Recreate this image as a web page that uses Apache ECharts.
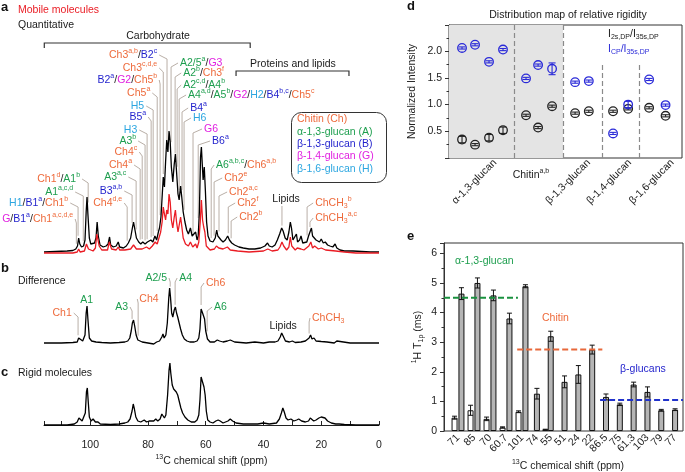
<!DOCTYPE html>
<html><head><meta charset="utf-8">
<script src="https://cdn.jsdelivr.net/npm/echarts@6/dist/echarts.min.js"></script>
<style>html,body{margin:0;padding:0;background:#fff}#c{width:685px;height:472px}</style>
</head><body><div id="c"></div><script>
// ---------------- DATA ----------------
// NMR spectra: [ppm, intensity (arbitrary units, baseline 0)]
const specQuant = [[116,0],[112,0.5],[108,1],[106,1.5],[105,3],[104.4,6],[104,14],[103.6,8],[103,5],[102.3,6],[101.8,12],[101.4,40],[101.1,55],[100.8,38],[100.3,14],[99.8,8],[99.2,6],[98.5,9],[98,14],[97.6,30],[97.2,16],[96.6,7],[95.5,5],[94.5,6],[93.8,8],[93.3,15],[92.9,7],[92,5],[91,6],[90.3,10],[89.8,5],[88.5,4],[87.5,6],[86.8,9],[86,14],[85.4,24],[85,30],[84.5,22],[84,14],[83.2,10],[82.5,8],[81.8,10],[81,8],[80.2,10],[79.6,8],[79,12],[78.3,10],[77.6,16],[77,12],[76.4,20],[76,24],[75.5,35],[75.1,55],[74.7,75],[74.3,65],[73.9,90],[73.5,112],[73.1,100],[72.7,121],[72.3,110],[71.9,85],[71.4,70],[70.9,88],[70.5,98],[70.1,80],[69.6,58],[69.2,52],[68.7,66],[68.3,55],[67.8,40],[67.2,30],[66.6,22],[66,18],[65.3,24],[64.7,16],[64.1,14],[63.5,20],[63,12],[62.6,16],[62.2,40],[61.8,95],[61.5,105],[61.2,88],[60.9,72],[60.5,85],[60.1,60],[59.7,30],[59.2,16],[58.5,11],[57.5,10],[56.7,14],[56.2,22],[55.8,16],[55.3,18],[54.7,12],[54,10],[53.2,12],[52.4,16],[51.8,12],[51,9],[50,7],[48.5,5],[47,4],[45,3],[43,3],[41,4],[39.5,6],[38.6,9],[38,6],[37,5],[36,7],[35.2,12],[34.4,18],[33.7,24],[33.2,21],[32.5,14],[31.8,12],[31.2,20],[30.7,30],[30.3,24],[29.8,12],[29.2,14],[28.6,18],[28.2,10],[27.5,12],[27,16],[26.4,9],[25.8,11],[25,10],[24.4,16],[23.9,20],[23.4,24],[23,16],[22.4,18],[21.8,12],[21.2,14],[20.6,10],[20,13],[19.3,9],[18.6,10],[17.8,7],[17,6],[16,5],[15.2,8],[14.6,4],[13.5,2],[12,1],[9,1],[6,0.5],[3,0],[0,0]];
const specMobile = [[116,-1],[110,-1],[106,-1],[104.5,0],[104,3],[103.5,0],[102,1],[101.3,8],[101,10],[100.6,3],[99,1],[98.2,4],[97.7,18],[97.3,20],[96.9,6],[96,2],[94,2],[93.4,10],[93,12],[92.6,3],[91,2],[90.3,5],[89.8,2],[88,2],[86,3],[85,7],[84,3],[82,3],[80.5,5],[79.5,3],[78.5,6],[77.5,10],[76.8,8],[76.2,14],[75.6,20],[75.1,30],[74.7,45],[74.3,38],[73.9,32],[73.5,42],[73.1,38],[72.7,58],[72.3,50],[71.9,32],[71.4,24],[70.9,35],[70.5,42],[70.1,30],[69.6,20],[69.2,22],[68.7,35],[68.3,26],[67.8,14],[67,8],[66,6],[65.3,10],[64.5,5],[63.5,8],[63,4],[62.4,10],[61.9,30],[61.5,52],[61.1,32],[60.7,25],[60.3,20],[59.8,6],[58.5,2],[57,3],[56.3,6],[55.5,4],[54,3],[52.5,5],[51.5,2],[49,1],[45,0],[40,1],[38.5,3],[37,1],[35,2],[34.3,5],[33.6,10],[33,6],[32,2],[31.2,5],[30.7,15],[30.2,6],[29,2],[28.3,4],[27,3],[26,2],[24.3,6],[23.6,10],[23,4],[22.3,6],[21,3],[20,4],[18.5,2],[15,1],[12,0],[8,-1],[0,-1]];
const specDiff = [[116,0],[110,0],[106,0.5],[104.5,1],[104,5],[103.6,3],[102.6,2],[101.8,8],[101.4,30],[101.1,37],[100.8,24],[100.3,5],[99.5,2],[98,1],[96,0.5],[93,0],[90,0.5],[88,1],[87,2],[86.3,5],[85.8,12],[85.4,20],[85,23],[84.6,17],[84.1,8],[83.5,3],[82,1],[80,0],[78,-1],[77,1],[76,2],[75.2,6],[74.8,9],[74.4,5],[73.8,8],[73.3,20],[72.8,45],[72.5,55],[72.2,46],[71.8,30],[71.4,26],[70.9,33],[70.5,36],[70.1,30],[69.7,26],[69.2,20],[68.7,14],[68.1,8],[67.4,4],[66.5,2],[65.5,1],[64,1],[63,2],[62.4,5],[62,14],[61.6,34],[61.4,36],[61.1,30],[60.8,28],[60.4,24],[60,12],[59.4,4],[58.5,1],[57,1],[56,3],[55.2,2],[54,1],[52.5,2],[51.5,3],[50,1],[46,0],[43,1],[40,0],[38,1],[36,1],[35,2],[34.2,6],[33.7,10],[33.2,7],[32.4,2],[31,1],[30,2],[29,0.5],[27,1],[25.5,2],[24.2,5],[23.7,8],[23.2,4],[22.5,5],[21.8,2],[20,1.5],[18,1],[15.5,0],[14.6,2],[14,0],[10,0],[5,0],[0,0]];
const specRigid = [[116,0],[112,0],[108,0],[105.5,1],[104.5,3],[103.9,7],[103.4,8],[102.8,4],[102.2,4],[101.7,12],[101.3,33],[101,37],[100.7,24],[100.3,8],[99.7,4],[99,6],[98.2,3],[97.3,3],[96.5,1],[93,0.5],[90,1],[88,2],[87,3],[86.2,6],[85.5,14],[85.1,21],[84.7,16],[84.2,8],[83.5,4],[82.5,3],[81.3,5],[80.5,3],[79.6,4],[79,3],[78,4],[77.3,6],[76.6,4],[75.8,6],[75.2,11],[74.8,12],[74.3,7],[73.8,10],[73.2,30],[72.7,55],[72.4,62],[72.1,52],[71.6,40],[71.1,36],[70.6,38],[70.2,33],[69.7,30],[69.2,24],[68.6,17],[68,12],[67.2,8],[66.2,5],[65,3],[63.8,3],[63,5],[62.4,10],[62,25],[61.6,48],[61.3,50],[61,42],[60.6,38],[60.2,30],[59.8,14],[59.3,5],[58.5,3],[57.5,2],[56.5,4],[55.7,5],[55,4],[54,2],[52.3,4],[51.5,6],[50.7,4],[49.5,2],[47,1],[44,1],[42,1],[40,2],[38,1],[35.5,2],[34.5,6],[33.8,12],[33.3,17],[32.8,13],[32.2,7],[31.5,5],[30.5,6],[29.5,4],[28.5,5],[27.8,6],[26.8,4],[25.5,3],[24.4,4],[23.8,7],[23.2,8],[22.6,4],[21.8,5],[20.8,7],[20,8],[19.4,9],[18.7,7],[17.8,4],[16.5,2],[15,1],[14.4,3],[13.8,1],[12,0.5],[8,0],[4,0],[0,0]];
const ppmTicks = [0, 20, 40, 60, 80, 100];

// Peak assignments, panel a: [label, side, text ppm, label height, peak ppm]
const annotA = [
 ['{o|Ch3}{os|a,b}{k|/}{b|B2}{bs|c}','L',76.8,197,73.4],
 ['{o|Ch3}{os|c,d,e}','L',76.8,184,74.7],
 ['{b|B2}{bs|a}{k|/}{m|G2}{k|/}{o|Ch5}{os|b}','L',76.8,172,75.8],
 ['{o|Ch5}{os|a}','L',79.2,159,76.8],
 ['{c|H5}','L',81.3,146,78.2],
 ['{b|B5}{bs|a}','L',80.6,135,78.9],
 ['{c|H3}','L',83.7,122,80.3],
 ['{g|A3}{gs|b}','L',84.1,111,81.0],
 ['{o|Ch4}{os|c}','L',83.7,100,82.0],
 ['{o|Ch4}{os|a}','L',85.5,87,82.7],
 ['{g|A3}{gs|a,c}','L',87.5,75,84.1],
 ['{b|B3}{bs|a,b}','L',88.9,61,85.5],
 ['{o|Ch4}{os|d,e}','L',88.9,49,87.2],
 ['{o|Ch1}{os|d}{k|/}{g|A1}{gs|b}','L',103.5,73,100.7],
 ['{g|A1}{gs|a,c,d}','L',105.9,60,102.4],
 ['{c|H1}{k|/}{b|B1}{bs|a}{k|/}{o|Ch1}{os|b}','L',107.6,49,104.2],
 ['{m|G}{k|/}{b|B1}{bs|a}{k|/}{o|Ch1}{os|a,c,d,e}','L',105.9,33,104.8],
 ['{g|A2/5}{gs|a}{k|/}{m|G3}','R',68.9,189,72.0],
 ['{g|A2}{gs|b}{k|/}{o|Ch3}{os|f}','R',67.8,179,70.6],
 ['{g|A2}{gs|c,d}{k|/}{g|A4}{gs|b}','R',67.8,167,69.9],
 ['{g|A4}{gs|a,d}{k|/}{g|A5}{gs|b}{k|/}{m|G2}{k|/}{c|H2}{k|/}{b|B4}{bs|b,c}{k|/}{o|Ch5}{os|c}','R',66.1,157,69.2],
 ['{b|B4}{bs|a}','R',65.4,144,68.2],
 ['{c|H6}','R',64.4,134,67.5],
 ['{m|G6}','R',60.6,123,64.4],
 ['{b|B6}{bs|a}','R',57.8,111,62.6],
 ['{g|A6}{gs|a,b,c}{k|/}{o|Ch6}{os|a,b}','R',56.4,87,58.1],
 ['{o|Ch2}{os|e}','R',53.6,74,57.1],
 ['{o|Ch2}{os|a,c}','R',51.9,60,55.4],
 ['{o|Ch2}{os|f}','R',49.1,49,52.2],
 ['{o|Ch2}{os|b}','R',48.4,35,51.2],
 ['{o|ChCH}{osub|3}{os|b}','R',22.1,49,24.9],
 ['{o|ChCH}{osub|3}{os|a,c}','R',22.1,34,23.9],
 ['{k|Lipids}','T',32.2,53,33.6]
];
// brackets: [from ppm, to ppm, height, label, label ppm]
const bracketsA = [[115.9,44.6,209,'Carbohydrate',76.5],[49.5,10.4,181,'Proteins and lipids',29.8]];
// panel b assignments
const annotB = [
 ['{o|Ch1}','L',106.4,30,104.2],
 ['{g|A1}','N',101.2,43,101],
 ['{g|A3}','L',86.9,36,85.5],
 ['{o|Ch4}','R',83.0,44,83.4],
 ['{g|A2/5}','L',73.4,65,72.3],
 ['{g|A4}','R',69.2,65,70.6],
 ['{o|Ch6}','R',59.9,60,61.6],
 ['{g|A6}','R',57.1,36,59.5],
 ['{k|Lipids}','N',33.2,17,33.2],
 ['{o|ChCH}{osub|3}','R',23.2,25,24.2]
];

// panel d: relative rigidity
const dGroups = ['α-1,3-glucan','β-1,3-glucan','β-1,4-glucan','β-1,6-glucan'];
const dGroupPos = [3.36, 10.2, 13.2, 16.3];
const dChitinPos = [5.98];
const dSlot = [0.95,1.9,2.92,3.94,5.62,6.5,7.52,9.2,10.2,11.97,13.07,14.6,15.8];
const dDP = [0.345,0.25,0.38,0.52,0.80,0.57,0.97,0.84,0.875,0.875,0.92,0.94,0.79];
const dDPerr = [0.06,0.02,0.06,0.06,0.02,0.02,0.02,0.02,0.02,0.02,0.02,0.02,0.02];
const dCP = [2.06,2.12,1.80,2.03,1.49,1.74,1.67,1.42,1.44,0.46,1.0,1.47,0.99];
const dCPerr = [0.02,0.02,0.02,0.02,0.02,0.02,0.11,0.02,0.02,0.02,0.06,0.02,0.02];
const dDividers = [4.74, 8.32];
const dDividersShort = [11.17, 13.87];

// panel e: 1H T1rho
const eCats1 = ['71','85','70','60.7','101'];
const eCats2 = ['74','55','51','24','22','86.5','75','61.3','103','79','77'];
const eMobile1 = [0.45,0.70,0.41,0.12,0.65];
const eMobileErr1 = [0.05,0.17,0.06,0.02,0.03];
const eRigid1 = [4.64,5.0,4.58,3.8,4.89];
const eRigidErr1 = [0.2,0.17,0.18,0.18,0.05];
const eRigid2 = [1.26,3.2,1.66,1.91,2.75,1.15,0.9,1.57,1.32,0.7,0.72];
const eRigidErr2 = [0.18,0.17,0.2,0.3,0.15,0.1,0.04,0.08,0.17,0.03,0.03];
const eMobile2 = ['-',0.05,'-','-','-','-','-','-','-','-','-'];
const eMobileErr2 = ['-',0.01,'-','-','-','-','-','-','-','-','-'];
const eMeans = [[0,4.95,4.5],[4.9,10.6,2.75],[10.45,16,1.05]]; // [from, to, mean]

// ---------------- STYLE ----------------
const FONT = 'Liberation Sans';
const ORANGE='#ee6a3b', GREEN='#1d9e4e', BLUE='#1f1fcc', MAGENTA='#e020e0', CYAN='#2ca6e0', RED='#ea1c24', LEADER='#b9afa7', INK='#1a1a1a';
const FS = 10.5;
function tok(fill, size, va, lh){ const s={fill:fill, fontSize:size, fontFamily:FONT, lineHeight:lh||14}; if(va) s.verticalAlign=va; return s; }
const richZ = {
 o:tok(ORANGE,FS), os:tok(ORANGE,7,'top',8), osub:tok(ORANGE,7,'bottom',8),
 g:tok(GREEN,FS), gs:tok(GREEN,7,'top',8),
 b:tok(BLUE,FS), bs:tok(BLUE,7,'top',8),
 m:tok(MAGENTA,FS), c:tok(CYAN,FS), k:tok(INK,FS)
};

function interp(spec,p){ for(let i=0;i<spec.length-1;i++){ const a=spec[i], b=spec[i+1]; if(p<=a[0] && p>=b[0]){ const t=(a[0]-p)/(a[0]-b[0]); return a[1]+(b[1]-a[1])*t; } } return 0; }
function topAt(spec,p){ return Math.max(interp(spec,p-0.25),interp(spec,p),interp(spec,p+0.25)); }

function annotRenderer(list, spec){
 return function(params, api){
  const r = list[params.dataIndex];
  const side=r[1], t=api.coord([r[2], r[3]]);
  const lx = api.coord([r[4], r[3]])[0];
  const by = api.coord([r[4], topAt(spec,r[4])+3])[1];
  const ch=[];
  let align='center';
  if(side==='L'){ align='right'; ch.push({type:'polyline',shape:{points:[[t[0]+2,t[1]],[lx,t[1]+4],[lx,by]]},style:{stroke:LEADER,lineWidth:1,fill:null}}); }
  else if(side==='R'){ align='left'; ch.push({type:'polyline',shape:{points:[[t[0]-2,t[1]],[lx,t[1]+4],[lx,by]]},style:{stroke:LEADER,lineWidth:1,fill:null}}); }
  else if(side==='T'){ ch.push({type:'polyline',shape:{points:[[lx,t[1]+7],[lx,by]]},style:{stroke:LEADER,lineWidth:1,fill:null}}); }
  ch.push({type:'text',x:t[0],y:t[1],style:{text:r[0],rich:richZ,align:align,verticalAlign:'middle',fontFamily:FONT,fontSize:FS}});
  return {type:'group',children:ch};
 };
}

function dMarker(color, vals, errs){
 return function(params, api){
  const i=params.dataIndex, x=dSlot[i], v=vals[i], e=errs[i];
  const c=api.coord([x,v]), hi=api.coord([x,v+e])[1], lo=api.coord([x,v-e])[1];
  const st={stroke:color,lineWidth:1.1,fill:null};
  return {type:'group',children:[
   {type:'circle',shape:{cx:c[0],cy:c[1],r:4.3},style:{stroke:color,lineWidth:1.3,fill:'rgba(255,255,255,0)'}},
   {type:'line',shape:{x1:c[0],y1:hi,x2:c[0],y2:lo},style:st},
   {type:'line',shape:{x1:c[0]-3.5,y1:hi,x2:c[0]+3.5,y2:hi},style:st},
   {type:'line',shape:{x1:c[0]-3.5,y1:lo,x2:c[0]+3.5,y2:lo},style:st}
  ]};
 };
}

function errBar(vals, errs, off){
 return function(params, api){
  const i=params.dataIndex, v=vals[i], e=errs[i];
  if(v==='-'||e==='-') return;
  const x=api.coord([i,v])[0]+off, hi=api.coord([i,v+e])[1], lo=api.coord([i,v-e])[1];
  const st={stroke:'#111',lineWidth:1};
  return {type:'group',children:[
   {type:'line',shape:{x1:x,y1:hi,x2:x,y2:lo},style:st},
   {type:'line',shape:{x1:x-2.5,y1:hi,x2:x+2.5,y2:hi},style:st},
   {type:'line',shape:{x1:x-2.5,y1:lo,x2:x+2.5,y2:lo},style:st}
  ]};
 };
}

const axisText = {color:'#222', fontSize:FS, fontFamily:FONT};
const hiddenVal = (min,max,extra)=>Object.assign({type:'value',min:min,max:max,show:false},extra||{});

const option = {
 animation:false,
 backgroundColor:'#fff',
 grid:[
  {left:44,width:335,top:0,height:256},
  {left:44,width:335,top:260,height:87},
  {left:44,width:335,top:350,height:82},
  {left:449,width:233,top:25,height:133,show:true,borderColor:'#333',borderWidth:1,backgroundColor:'rgba(0,0,0,0)'},
  {left:444,width:239,top:243,height:188,show:true,borderColor:'#333',borderWidth:1,backgroundColor:'rgba(0,0,0,0)'},
  {left:450,width:80,top:243,height:188},
  {left:530,width:152,top:243,height:188}
 ],
 xAxis:[
  hiddenVal(0,116,{gridIndex:0,inverse:true}),
  hiddenVal(0,116,{gridIndex:1,inverse:true}),
  {type:'value',gridIndex:2,min:0,max:116,inverse:true,interval:10,
   axisLine:{lineStyle:{color:'#222',width:1}},
   axisTick:{inside:true,length:4,lineStyle:{color:'#222'}},
   splitLine:{show:false},
   axisLabel:Object.assign({margin:8,formatter:v=>ppmTicks.indexOf(v)>=0?String(v):''},axisText),
   name:'{sup|13}{t|C chemical shift (ppm)}',nameLocation:'middle',nameGap:22,
   nameTextStyle:{rich:{sup:{fontSize:7,fontFamily:FONT,color:'#222',verticalAlign:'top',lineHeight:8},t:{fontSize:FS,fontFamily:FONT,color:'#222',lineHeight:14}}}},
  {type:'value',gridIndex:3,min:0,max:17,position:'bottom',axisLine:{show:false},axisTick:{show:false},splitLine:{show:false},
   axisLabel:Object.assign({customValues:dGroupPos,rotate:45,margin:3,formatter:v=>{const i=dGroupPos.indexOf(v);return i>=0?dGroups[i]:'';}},axisText)},
  {type:'value',gridIndex:3,min:0,max:17,position:'bottom',axisLine:{show:false},axisTick:{show:false},splitLine:{show:false},
   axisLabel:{customValues:dChitinPos,margin:10,formatter:()=> '{t|Chitin}{s|a,b}',
     rich:{t:{fontSize:FS,fontFamily:FONT,color:'#222',lineHeight:14},s:{fontSize:7,fontFamily:FONT,color:'#222',verticalAlign:'top',lineHeight:8}}}},
  hiddenVal(0,16,{gridIndex:4}),
  {type:'category',gridIndex:5,data:eCats1,axisLine:{show:false},axisTick:{show:false},
   axisLabel:Object.assign({rotate:45,margin:5,interval:0},axisText)},
  {type:'category',gridIndex:6,data:eCats2,axisLine:{show:false},axisTick:{show:false},
   axisLabel:Object.assign({rotate:45,margin:5,interval:0},axisText)},
  {type:'category',gridIndex:6,data:eCats2,show:false}
 ],
 yAxis:[
  hiddenVal(-4,252,{gridIndex:0}),
  hiddenVal(-4,83,{gridIndex:1}),
  hiddenVal(-7,75,{gridIndex:2}),
  {type:'value',gridIndex:3,min:0,max:2.49,interval:0.5,
   axisLine:{show:true,lineStyle:{color:'#333'}},
   axisTick:{show:true,length:4,lineStyle:{color:'#333'}},
   minorTick:{show:true,splitNumber:2,length:2.5,lineStyle:{color:'#333'}},
   splitLine:{show:false},
   axisLabel:Object.assign({margin:7,formatter:v=>(v>0.01&&v<2.2)?v.toFixed(1):''},axisText),
   name:'Normalized Intensity',nameLocation:'middle',nameGap:31,nameRotate:90,nameTextStyle:axisText},
  {type:'value',gridIndex:4,min:0,max:6.35,interval:1,
   axisLine:{show:true,lineStyle:{color:'#333'}},
   axisTick:{show:true,length:4,lineStyle:{color:'#333'}},
   minorTick:{show:true,splitNumber:2,length:2.5,lineStyle:{color:'#333'}},
   splitLine:{show:false},
   axisLabel:Object.assign({margin:7,formatter:v=>Number.isInteger(v)?String(v):''},axisText),
   name:'{s|1}{t|H T}{b|1ρ}{t| (ms)}',nameLocation:'middle',nameGap:19,nameRotate:90,
   nameTextStyle:{rich:{s:{fontSize:7,fontFamily:FONT,color:'#222',verticalAlign:'top',lineHeight:8},t:{fontSize:FS,fontFamily:FONT,color:'#222',lineHeight:14},b:{fontSize:7,fontFamily:FONT,color:'#222',verticalAlign:'bottom',lineHeight:8}}}},
  hiddenVal(0,6.35,{gridIndex:5}),
  hiddenVal(0,6.35,{gridIndex:6})
 ],
 series:[
  {type:'line',xAxisIndex:0,yAxisIndex:0,data:specQuant,showSymbol:false,lineStyle:{color:'#000',width:1.3},z:3},
  {type:'line',xAxisIndex:0,yAxisIndex:0,data:specMobile,showSymbol:false,lineStyle:{color:RED,width:1.3},z:4},
  {type:'custom',xAxisIndex:0,yAxisIndex:0,data:annotA.map(r=>[r[2],r[3],r[4]]),renderItem:annotRenderer(annotA,specQuant),z:2,silent:true},
  {type:'custom',xAxisIndex:0,yAxisIndex:0,data:bracketsA.map(r=>[r[0],r[1],r[2]]),silent:true,
   renderItem:function(params,api){const r=bracketsA[params.dataIndex];const a=api.coord([r[0],r[2]]),b=api.coord([r[1],r[2]]),t=api.coord([r[4],r[2]]);
    return {type:'group',children:[{type:'polyline',shape:{points:[[a[0],a[1]+5],[a[0],a[1]],[b[0],b[1]],[b[0],b[1]+5]]},style:{stroke:'#333',lineWidth:1.2,fill:null}},
     {type:'text',x:t[0],y:a[1]-7,style:{text:r[3],align:'center',verticalAlign:'middle',fill:INK,fontSize:FS,fontFamily:FONT}}]};}},
  {type:'line',xAxisIndex:1,yAxisIndex:1,data:specDiff,showSymbol:false,lineStyle:{color:'#000',width:1.3},z:3},
  {type:'custom',xAxisIndex:1,yAxisIndex:1,data:annotB.map(r=>[r[2],r[3],r[4]]),renderItem:annotRenderer(annotB,specDiff),z:2,silent:true},
  {type:'line',xAxisIndex:2,yAxisIndex:2,data:specRigid,showSymbol:false,lineStyle:{color:'#000',width:1.3},z:3},
  // panel d
  {type:'line',xAxisIndex:3,yAxisIndex:3,data:[],z:1,silent:true,
   markArea:{silent:true,itemStyle:{color:'#e4e4e4'},data:[[{coord:[0,0]},{coord:[dDividers[1],2.49]}]]},
   markLine:{silent:true,symbol:'none',label:{show:false},lineStyle:{color:'#8a8a8a',type:[5,3],width:1.2},
    data:dDividers.map(x=>[{coord:[x,0]},{coord:[x,2.49]}]).concat(dDividersShort.map(x=>[{coord:[x,0]},{coord:[x,1.74]}]))}},
  {type:'custom',xAxisIndex:3,yAxisIndex:3,data:dSlot.map((x,i)=>[x,dDP[i]]),renderItem:dMarker('#222',dDP,dDPerr),z:5,silent:true},
  {type:'custom',xAxisIndex:3,yAxisIndex:3,data:dSlot.map((x,i)=>[x,dCP[i]]),renderItem:dMarker('#2a2ad8',dCP,dCPerr),z:5,silent:true},
  // panel e
  {type:'bar',xAxisIndex:6,yAxisIndex:5,data:eMobile1,barWidth:6,barGap:'15%',itemStyle:{color:'#fff',borderColor:'#111',borderWidth:1}},
  {type:'bar',xAxisIndex:6,yAxisIndex:5,data:eRigid1,barWidth:6,barGap:'15%',itemStyle:{color:'#b5b5b5',borderColor:'#111',borderWidth:1}},
  {type:'custom',xAxisIndex:6,yAxisIndex:5,data:eMobile1.map((v,i)=>[i,v]),renderItem:errBar(eMobile1,eMobileErr1,-3.45),z:4,silent:true},
  {type:'custom',xAxisIndex:6,yAxisIndex:5,data:eRigid1.map((v,i)=>[i,v]),renderItem:errBar(eRigid1,eRigidErr1,3.45),z:4,silent:true},
  {type:'bar',xAxisIndex:7,yAxisIndex:6,data:eRigid2,barWidth:6,itemStyle:{color:'#b5b5b5',borderColor:'#111',borderWidth:1}},
  {type:'bar',xAxisIndex:8,yAxisIndex:6,data:eMobile2,barWidth:6,barGap:'80%',itemStyle:{color:'#fff',borderColor:'#111',borderWidth:1}},
  {type:'bar',xAxisIndex:8,yAxisIndex:6,data:eCats2.map(()=> '-'),barWidth:6,barGap:'80%'},
  {type:'custom',xAxisIndex:7,yAxisIndex:6,data:eRigid2.map((v,i)=>[i,v]),renderItem:errBar(eRigid2,eRigidErr2,0),z:4,silent:true},
  {type:'custom',xAxisIndex:8,yAxisIndex:6,data:eMobile2.map((v,i)=>[i,v]),renderItem:errBar(eMobile2,eMobileErr2,-5.4),z:4,silent:true}
 ].concat(eMeans.map((m,i)=>({type:'line',xAxisIndex:5,yAxisIndex:4,data:[[m[0],m[2]],[m[1],m[2]]],showSymbol:false,z:6,silent:true,
   lineStyle:{color:[ '#1a913f','#e8683a','#2233cc'][i],width:2,type:[6,3]}}))),
 graphic:[
  {type:'text',left:1,top:1,style:{text:'a',fontSize:13,fontWeight:'bold',fontFamily:FONT,fill:'#111'}},
  {type:'text',left:1,top:262,style:{text:'b',fontSize:13,fontWeight:'bold',fontFamily:FONT,fill:'#111'}},
  {type:'text',left:1,top:366,style:{text:'c',fontSize:13,fontWeight:'bold',fontFamily:FONT,fill:'#111'}},
  {type:'text',left:407,top:0,style:{text:'d',fontSize:13,fontWeight:'bold',fontFamily:FONT,fill:'#111'}},
  {type:'text',left:407,top:230,style:{text:'e',fontSize:13,fontWeight:'bold',fontFamily:FONT,fill:'#111'}},
  {type:'text',left:18,top:5,style:{text:'Mobile molecules',fontSize:FS,fontFamily:FONT,fill:RED}},
  {type:'text',left:18,top:20,style:{text:'Quantitative',fontSize:FS,fontFamily:FONT,fill:INK}},
  {type:'text',left:18,top:276,style:{text:'Difference',fontSize:FS,fontFamily:FONT,fill:INK}},
  {type:'text',left:18,top:368,style:{text:'Rigid molecules',fontSize:FS,fontFamily:FONT,fill:INK}},
  {type:'rect',left:289,top:110,shape:{width:95,height:70,r:10},style:{fill:'none',stroke:'#333',lineWidth:1}},
  {type:'text',left:297,top:114,style:{text:'Chitin (Ch)',fontSize:FS,fontFamily:FONT,fill:ORANGE}},
  {type:'text',left:297,top:127,style:{text:'α-1,3-glucan (A)',fontSize:FS,fontFamily:FONT,fill:GREEN}},
  {type:'text',left:297,top:139,style:{text:'β-1,3-glucan (B)',fontSize:FS,fontFamily:FONT,fill:BLUE}},
  {type:'text',left:297,top:151,style:{text:'β-1,4-glucan (G)',fontSize:FS,fontFamily:FONT,fill:MAGENTA}},
  {type:'text',left:297,top:164,style:{text:'β-1,6-glucan (H)',fontSize:FS,fontFamily:FONT,fill:CYAN}},
  {type:'text',x:568,y:15,style:{text:'Distribution map of relative rigidity',align:'center',verticalAlign:'middle',fontSize:FS,fontFamily:FONT,fill:INK}},
  {type:'text',x:608,y:34,style:{text:'{n|I}{s|2s,DP}{n|/I}{s|35s,DP}',verticalAlign:'middle',rich:{n:tok(INK,FS),s:tok(INK,7,'bottom',8)}}},
  {type:'text',x:608,y:49,style:{text:'{n|I}{s|CP}{n|/I}{s|35s,DP}',verticalAlign:'middle',rich:{n:tok('#2a2ad8',FS),s:tok('#2a2ad8',7,'bottom',8)}}},
  {type:'text',x:455,y:261,style:{text:'α-1,3-glucan',verticalAlign:'middle',fontSize:FS,fontFamily:FONT,fill:GREEN}},
  {type:'text',x:542,y:318,style:{text:'Chitin',verticalAlign:'middle',fontSize:FS,fontFamily:FONT,fill:ORANGE}},
  {type:'text',x:620,y:369,style:{text:'β-glucans',verticalAlign:'middle',fontSize:FS,fontFamily:FONT,fill:BLUE}},
  {type:'text',x:568,y:466,style:{text:'{s|13}{t|C chemical shift (ppm)}',align:'center',verticalAlign:'middle',rich:{s:tok('#222',7,'top',8),t:tok('#222',FS)}}}
 ]
};
const chart = echarts.init(document.getElementById('c'));
chart.setOption(option);
</script></body></html>
